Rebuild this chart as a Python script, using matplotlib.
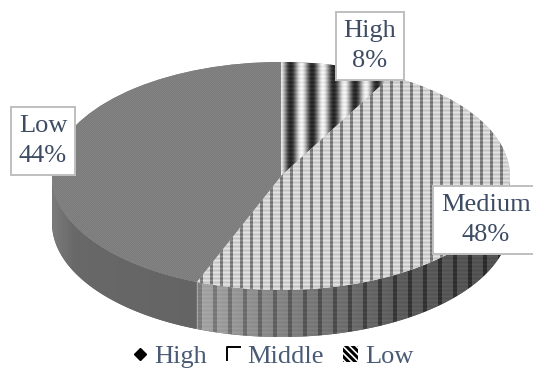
import numpy as np
import matplotlib
matplotlib.use("Agg")
import matplotlib.pyplot as plt
from matplotlib.lines import Line2D
from matplotlib.patches import Patch, Polygon
from matplotlib.path import Path

categories = ["High", "Medium", "Low"]
shares = [8, 48, 44]
legend_labels = ["High", "Middle", "Low"]

WIDTH, HEIGHT = 533, 368
CX, CY = 281, 176      # centre of the top face, pixels
RX, RY = 229, 114      # radii of the top face, pixels
DEPTH = 47 / RY        # thickness of the disc in data units
TEXT_COLOR = "#3d4c63"

plt.rcParams["font.family"] = ["Liberation Serif", "DejaVu Serif"]
plt.rcParams["hatch.linewidth"] = 2.2


def top_high(x, y):
    v = 140 + 100 * np.cos(2 * np.pi * (x - 301) / 21.5)
    return v + 8 * np.cos(2 * np.pi * y / 4)


def top_medium(x, y):
    v = np.full(x.shape, 212.0)
    v[(x % 10) < 2.5] = 125
    return v + 16 * np.cos(2 * np.pi * y / 4)


def top_low(x, y):
    return 127 + 3 * np.cos(np.pi * (x + y))


def side_medium(x, y):
    v = np.interp(x, [197, 300, 400, 505], [165, 125, 92, 80])
    return v - 38 * (((x - 3) % 15) < 4) + 5 * np.cos(2 * np.pi * y / 4)


def side_low(x, y):
    return np.interp(x, [52, 75, 197], [122, 104, 100])


def side_high(x, y):
    return 90 + 0 * x


top_textures = {"High": top_high, "Medium": top_medium, "Low": top_low}
side_textures = {"High": side_high, "Medium": side_medium, "Low": side_low}

fig = plt.figure(figsize=(WIDTH / 100, HEIGHT / 100), dpi=100)
ax = fig.add_axes([0, 0, 1, 1])

wedges, _ = ax.pie(shares, startangle=90, counterclock=False,
                   colors=["#808080", "#d4d4d4", "#7f7f7f"],
                   wedgeprops={"linewidth": 0})
ax.set_aspect("auto")

limits_x = (-CX / RX, (WIDTH - CX) / RX)
limits_y = (-(HEIGHT - CY) / RY, CY / RY)
extent = (*limits_x, *limits_y)
px, py = np.meshgrid(np.arange(WIDTH), np.arange(HEIGHT))


def paint(texture, clip_patch, zorder):
    im = ax.imshow(texture(px, py), cmap="gray", vmin=0, vmax=255, extent=extent,
                   aspect="auto", interpolation="bilinear", zorder=zorder)
    im.set_clip_path(clip_patch)


# the rim: only the front half of each wedge can be seen
for name, wedge in zip(categories, wedges):
    lo, hi = sorted((wedge.theta1, wedge.theta2))
    t = np.radians(np.linspace(lo, hi, 200))
    t = t[np.sin(t) <= 0]
    if t.size > 1:
        upper = np.column_stack([np.cos(t), np.sin(t)])
        lower = (upper - [0, DEPTH])[::-1]
        rim = Polygon(np.vstack([upper, lower]), closed=True, facecolor="#666666",
                      edgecolor="none", zorder=1)
        ax.add_patch(rim)
        paint(side_textures[name], rim, 2)

# the top face
for name, wedge in zip(categories, wedges):
    wedge.set_zorder(3)
    paint(top_textures[name], wedge, 4)

ax.set_xlim(*limits_x)
ax.set_ylim(*limits_y)
ax.axis("off")

box = dict(boxstyle="square,pad=0.3", facecolor="white", edgecolor="#bfbfbf", linewidth=1.4)
label_spots = {"High": (370, 46), "Medium": (486, 220), "Low": (43, 141)}
for name, share in zip(categories, shares):
    lx, ly = label_spots[name]
    ax.annotate(f"{name}\n{share}%", xy=(lx / WIDTH, 1 - ly / HEIGHT), xycoords="axes fraction",
                ha="center", va="center", fontsize=19, color=TEXT_COLOR,
                linespacing=1.5, bbox=box, zorder=6, annotation_clip=False)

corner = Path([(-1, -1), (-1, 1), (1, 1)])
handles = [
    Line2D([], [], linestyle="none", marker="D", markersize=6.5, color="black"),
    Line2D([], [], linestyle="none", marker=corner, markersize=10, markerfacecolor="none",
           markeredgecolor="black", markeredgewidth=1.4),
    Patch(facecolor="white", edgecolor="black", hatch="\\\\\\\\\\", linewidth=0),
]
ax.legend(handles, legend_labels, ncol=3, frameon=False, loc="lower center",
          bbox_to_anchor=(0.512, 0.0), fontsize=19, labelcolor="#4a5a75",
          handlelength=0.57, handleheight=0.57, handletextpad=0.25, columnspacing=0.72,
          borderpad=0, borderaxespad=0)

fig.savefig("out.png", dpi=100)
